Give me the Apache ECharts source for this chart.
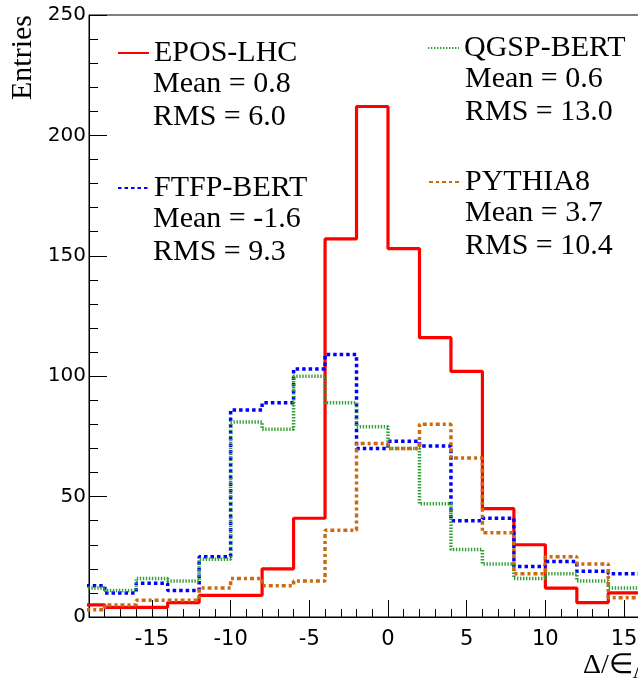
<!DOCTYPE html>
<html>
<head>
<meta charset="utf-8">
<script src="https://cdn.jsdelivr.net/npm/echarts@6/dist/echarts.min.js"></script>
<style>
  html, body { margin: 0; padding: 0; background: #fff; }
  #chart { width: 638px; height: 686px; }
</style>
</head>
<body>
<div id="chart"></div>
<script>
// Bin edges (width 2) of the histograms
const binEdges = [-20, -18, -16, -14, -12, -10, -8, -6, -4, -2, 0, 2, 4, 6, 8, 10, 12, 14, 16];

// Entries per bin for each generator / physics list
const eposLhc   = [5, 4, 4, 6, 9, 9, 20, 41, 157, 212, 153, 116, 102, 45, 30, 12, 6, 10];
const ftfpBert  = [13, 10, 14, 11, 25, 86, 89, 103, 109, 70, 73, 71, 40, 41, 21, 23, 19, 18];
const qgspBert  = [12, 11, 16, 15, 24, 81, 78, 100, 89, 79, 70, 47, 28, 22, 16, 18, 15, 12];
const pythia8   = [3, 5, 7, 7, 12, 16, 13, 15, 36, 72, 70, 80, 66, 35, 18, 25, 22, 8];

// Legend names and statistics
const modelNames = ['EPOS-LHC', 'FTFP-BERT', 'QGSP-BERT', 'PYTHIA8'];
const modelMeans = ['0.8', '-1.6', '0.6', '3.7'];
const modelRms   = ['6.0', '9.3', '13.0', '10.4'];

// Axis tick labels
const xTickLabels = [-15, -10, -5, 0, 5, 10, 15];
const xMinorTicks = [];
for (let v = -19; v <= 19; v++) xMinorTicks.push(v);

const SERIF = '"Liberation Serif", "Times New Roman", serif';
const SANS = '"DejaVu Sans", "Liberation Sans", sans-serif';

function toSteps(values) {
  const pts = values.map((v, i) => [binEdges[i], v]);
  pts.push([binEdges[values.length], values[values.length - 1]]);
  return pts;
}

const seriesStyles = [
  { color: '#ff0000', type: 'solid', width: 3.2 },
  { color: '#0000ff', type: [3.5, 3], width: 3.5 },
  { color: '#33a033', type: [1.4, 1.6], width: 3.5 },
  { color: '#cc6a10', type: [4, 3, 3, 3], width: 3.5 }
];
const seriesValues = [eposLhc, ftfpBert, qgspBert, pythia8];

const legendPos = [
  { left: 117, top: 38 },
  { left: 117, top: 173 },
  { left: 427, top: 33 },
  { left: 428, top: 167 }
];
const statsPos = [
  { left: 153, top: 68 },
  { left: 153, top: 203 },
  { left: 465, top: 63 },
  { left: 465, top: 197 }
];

const chart = echarts.init(document.getElementById('chart'), null, { renderer: 'canvas' });

const option = {
  backgroundColor: '#fff',
  animation: false,
  grid: {
    left: 89, top: 15, bottom: 69, width: 598,
    outerBoundsMode: 'none', containLabel: false,
    show: true, borderColor: '#000', borderWidth: 1, backgroundColor: 'transparent'
  },
  title: modelNames.map((n, i) => ({
    text: 'Mean = ' + modelMeans[i] + '\nRMS = ' + modelRms[i],
    left: statsPos[i].left, top: statsPos[i].top, padding: 0,
    textStyle: { fontFamily: SERIF, fontSize: 30, fontWeight: 'normal', lineHeight: 33, color: '#000' }
  })).concat([{
    text: '{a|Δ/∈}{b|Λ}',
    left: 583, top: 651, padding: 0,
    textStyle: {
      fontWeight: 'normal',
      rich: {
        a: { fontFamily: SERIF, fontSize: 28, fontWeight: 'normal', color: '#000', lineHeight: 30 },
        b: { fontFamily: SERIF, fontSize: 20, fontWeight: 'normal', color: '#000', lineHeight: 30, padding: [14, 0, 0, 0] }
      }
    }
  }]),
  legend: modelNames.map((n, i) => ({
    data: [n],
    left: legendPos[i].left, top: legendPos[i].top,
    padding: 0, itemWidth: 31, itemHeight: 14,
    selectedMode: false,
    itemStyle: { opacity: 0 },
    textStyle: { fontFamily: SERIF, fontSize: 30, color: '#000', lineHeight: 30 }
  })),
  xAxis: [
    {
      type: 'value', min: -19, max: 19, position: 'bottom',
      axisLine: { show: true, onZero: false, lineStyle: { color: '#000', width: 1 } },
      axisTick: { show: true, inside: true, length: 17, customValues: xTickLabels, lineStyle: { color: '#000' } },
      axisLabel: { customValues: xTickLabels, fontFamily: SANS, fontSize: 21, color: '#000', margin: 12 },
      splitLine: { show: false }
    },
    {
      type: 'value', min: -19, max: 19, position: 'bottom',
      axisLine: { show: false, onZero: false },
      axisTick: { show: true, inside: true, length: 8, customValues: xMinorTicks, lineStyle: { color: '#000' } },
      axisLabel: { show: false },
      splitLine: { show: false }
    }
  ],
  yAxis: {
    type: 'value', min: 0, max: 250, interval: 50,
    axisLine: { show: true, onZero: false, lineStyle: { color: '#000', width: 1 } },
    axisTick: { show: true, inside: true, length: 18, lineStyle: { color: '#000' } },
    minorTick: { show: true, splitNumber: 5, length: 9, lineStyle: { color: '#000' } },
    axisLabel: { fontFamily: SANS, fontSize: 20, color: '#000', margin: 3 },
    splitLine: { show: false }
  },
  graphic: [{
    type: 'text',
    x: 23, y: 15,
    rotation: Math.PI / 2,
    style: { text: 'Entries', font: '30px ' + SERIF, fill: '#000', align: 'right', verticalAlign: 'middle' }
  }],
  series: modelNames.map((n, i) => ({
    name: n,
    type: 'line',
    step: 'end',
    xAxisIndex: 0,
    symbol: 'none',
    data: toSteps(seriesValues[i]),
    lineStyle: { color: seriesStyles[i].color, width: seriesStyles[i].width, type: seriesStyles[i].type, cap: 'butt' },
    itemStyle: { color: seriesStyles[i].color }
  }))
};

chart.setOption(option);
</script>
</body>
</html>
